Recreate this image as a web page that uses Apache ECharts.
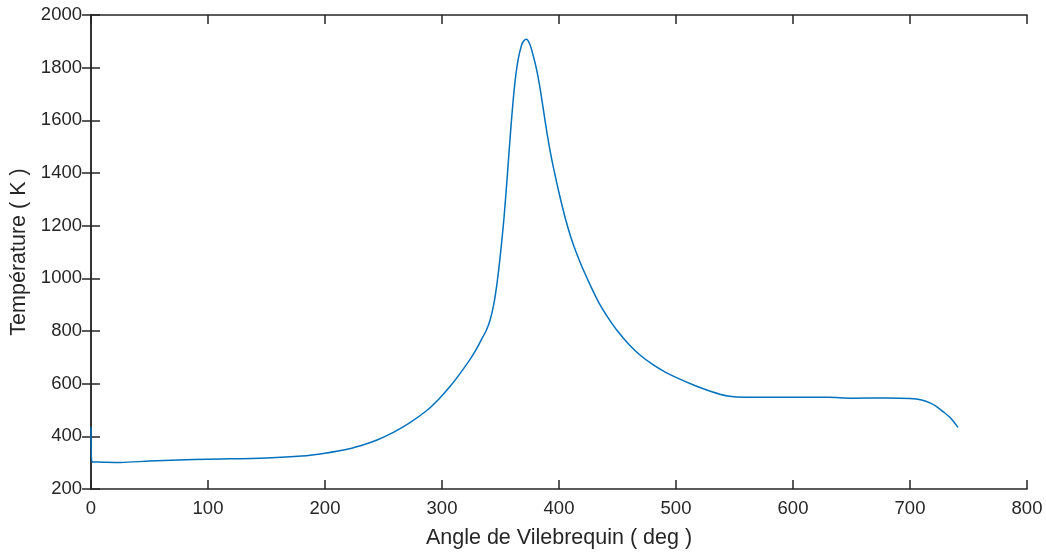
<!DOCTYPE html>
<html><head><meta charset="utf-8">
<script src="https://cdn.jsdelivr.net/npm/echarts@6/dist/echarts.min.js"></script>
<style>html,body{margin:0;padding:0;background:#fff}#c{width:1046px;height:552px}</style>
</head><body><div id="c"></div>
<script>
const angles = [0,1,10,25,50,75,100,150,180,200,220,235,245,258,272,287,297,307,316,324,329,334,338,341,344,347,350,353,356,359,362,365,368,370,372,375,378,381,384,387,390,393,396,400,405,410,415,420,428,435,442,450,460,470,480,490,500,515,530,544,560,600,630,650,680,700,710,718,723,728,735,741];
const temps = [436,303,302,301,306,310,313,318,325,336,352,371,387,414,450,498,540,590,642,692,728,770,804,840,895,980,1095,1230,1400,1580,1730,1830,1885,1902,1908,1890,1845,1790,1717,1630,1545,1470,1405,1325,1235,1158,1095,1040,962,900,850,800,748,706,673,646,624,595,570,553,548,548,548,545,546,544,538,525,512,495,468,434];
const xTicks = [0,100,200,300,400,500,600,700,800];
const yTicks = [200,400,600,800,1000,1200,1400,1600,1800,2000];
const xLabel = 'Angle de Vilebrequin ( deg )';
const yLabel = 'Température ( K )';

const ink = '#262626';
const font = 'Liberation Sans, Arial, sans-serif';
const axisLine = {show:true, lineStyle:{color:ink, width:1.5}};
const tick = {show:true, inside:true, length:9, lineStyle:{color:ink, width:1.5}};
const chart = echarts.init(document.getElementById('c'), null, {renderer:'canvas'});
chart.setOption({
  animation:false,
  backgroundColor:'#fff',
  grid:{left:91, right:19, top:15, bottom:63, containLabel:false, outerBoundsMode:'none'},
  xAxis:[
    {type:'value', min:0, max:800, interval:100, position:'bottom',
     name:xLabel, nameLocation:'middle', nameGap:38,
     nameTextStyle:{color:ink, fontSize:21.5, fontFamily:font},
     axisLine, axisTick:tick, splitLine:{show:false},
     axisLabel:{color:ink, fontSize:18.5, fontFamily:font, margin:10, formatter:v=>String(v)}},
    {type:'value', min:0, max:800, interval:100, position:'top',
     axisLine, axisTick:tick, splitLine:{show:false}, axisLabel:{show:false}}
  ],
  yAxis:[
    {type:'value', min:200, max:2000, interval:200, position:'left',
     name:yLabel, nameLocation:'middle', nameGap:55,
     nameTextStyle:{color:ink, fontSize:21.5, fontFamily:font},
     axisLine, axisTick:tick, splitLine:{show:false},
     axisLabel:{color:ink, fontSize:18.5, fontFamily:font, margin:9, formatter:v=>String(v)}},
    {type:'value', min:200, max:2000, interval:200, position:'right',
     axisLine, axisTick:tick, splitLine:{show:false}, axisLabel:{show:false}}
  ],
  series:[{
    type:'line', showSymbol:false, smooth:0.3,
    data: angles.map((a,i)=>[a,temps[i]]),
    lineStyle:{color:'#0072BD', width:1.5},
    itemStyle:{color:'#0072BD'}
  }]
});
</script></body></html>
